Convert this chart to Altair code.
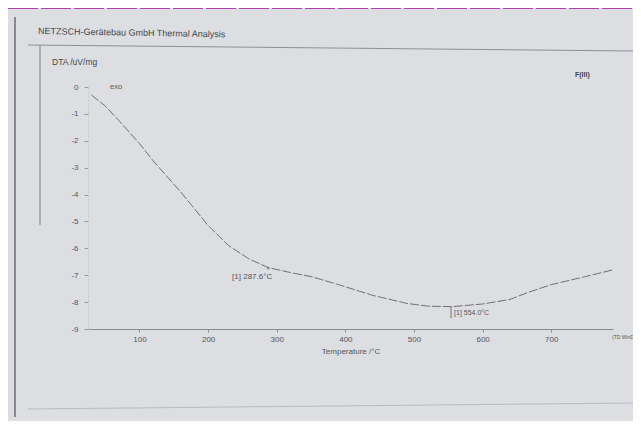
import altair as alt
import pandas as pd

# ---- data ----
temperature = [30, 50, 70, 100, 120, 160, 200, 230, 260, 288, 320, 350, 390, 440,
               490, 520, 555, 600, 640, 665, 700, 750, 790]
dta = [-0.3, -0.7, -1.25, -2.1, -2.75, -3.9, -5.15, -5.9, -6.4, -6.72, -6.9, -7.05,
       -7.35, -7.75, -8.05, -8.15, -8.17, -8.07, -7.9, -7.65, -7.35, -7.05, -6.8]
peak_temps = [287.6, 554.0]
peak_dta = [-6.72, -8.17]
peak_labels = ["[1] 287.6°C", "[1] 554.0°C"]
x_ticks = [100, 200, 300, 400, 500, 600, 700]
y_ticks = [0, -1, -2, -3, -4, -5, -6, -7, -8, -9]

df = pd.DataFrame({"T": temperature, "DTA": dta})
peaks = pd.DataFrame({"T": peak_temps, "DTA": peak_dta, "label": peak_labels})

W, H = 525, 242
INK = "#55575b"
FONT = "Liberation Sans"

xs = alt.Scale(domain=[25, 790], nice=False, zero=False)
ys = alt.Scale(domain=[-9, 0], nice=False, zero=False)

x_axis = alt.Axis(title="Temperature /°C", values=x_ticks, format="d",
                  titleFont=FONT, titleFontSize=8, titleFontWeight="normal",
                  titleColor=INK, titlePadding=4,
                  labelFont=FONT, labelFontSize=8, labelColor=INK,
                  domainColor="#8a8c90", tickColor="#8a8c90", tickSize=3,
                  labelPadding=3, grid=False, labelOverlap=False)
y_axis = alt.Axis(title=None, values=y_ticks,
                  labelExpr="datum.value == 0 ? '0' : '-' + abs(datum.value)",
                  labelFont=FONT, labelFontSize=8, labelColor=INK,
                  domainColor="#c4c6ca", domainDash=[2, 2],
                  tickColor="#9a9ca0", tickSize=4,
                  labelPadding=6, grid=False, labelOverlap=False)

X = alt.X("T:Q", scale=xs, axis=x_axis)
Y = alt.Y("DTA:Q", scale=ys, axis=y_axis)

curve = alt.Chart(df).mark_line(color="#6f7175", strokeWidth=1, strokeDash=[9, 2]).encode(x=X, y=Y)

peak_pts = alt.Chart(peaks.iloc[[0]]).mark_point(shape="triangle-up", size=12, color="#6f7175", filled=True).encode(
    x=X, y=Y)

lab1 = alt.Chart(peaks.iloc[[0]]).mark_text(font=FONT, fontSize=8, color=INK, align="right", dx=4, dy=9).encode(
    x=X, y=Y, text="label:N")

peaks2 = peaks.iloc[[1]].assign(lo=-8.6)
bar2 = alt.Chart(peaks2).mark_rule(color="#6f7175", strokeWidth=1).encode(
    x=X, y=Y, y2="lo:Q")
lab2 = alt.Chart(peaks2).mark_text(font=FONT, fontSize=7, color=INK, align="left", dx=3, dy=6).encode(
    x=X, y=Y, text="label:N")


def txt(s, x, y, size=8, align="left", weight="normal", angle=0, color=INK):
    return alt.Chart(pd.DataFrame({"t": [s]})).mark_text(
        font=FONT, fontSize=size, align=align, baseline="middle",
        fontWeight=weight, angle=angle, color=color).encode(
        x=alt.value(x), y=alt.value(y), text="t:N")


def rule(x1, y1, x2, y2, color="#9a9ca0", width=1, dash=None):
    kw = dict(color=color, strokeWidth=width)
    if dash:
        kw["strokeDash"] = dash
    return alt.Chart(pd.DataFrame({"a": [0]})).mark_rule(**kw).encode(
        x=alt.value(x1), x2=alt.value(x2), y=alt.value(y1), y2=alt.value(y2))


# texts (positions relative to the plot area's top-left corner)
header = txt("NETZSCH-Gerätebau GmbH Thermal Analysis", -50, -56, size=9, angle=1, color="#45474b")
ylabel = txt("DTA /uV/mg", -36, -25, size=8.5, color="#45474b")
exo = txt("exo", 22, 0, size=7.5)
fIII = txt("F(III)", 487, -12, size=7, weight="bold", color="#45474b")
tdwin = txt("(TD WinD", 524, 250, size=5)

# frame lines of the printed sheet
frame_top = rule(-60, -42, 545, -36, color="#8f9195")
frame_left = rule(-48, -42, -48, 138, color="#7c7e82")
edge_left = rule(-73, -70, -73, 330, color="#6a6c70", width=1.5)
frame_bottom = rule(-60, 322, 545, 316, color="#b8babe")
top_dash = rule(-80, -79, 545, -79, color="#b040b0", width=2, dash=[30, 3])

chart = alt.layer(
    curve, peak_pts, lab1, bar2, lab2,
    top_dash, frame_top, frame_left, edge_left, frame_bottom,
    header, ylabel, exo, fIII, tdwin,
).properties(
    width=W, height=H,
    padding={"left": 80, "top": 79, "right": 20, "bottom": 92},
    autosize=alt.AutoSizeParams(type="none"),
    background="#dcdee2",
).configure_view(stroke=None)

chart.save("out.html", embed_options={"renderer": "svg", "actions": False})
